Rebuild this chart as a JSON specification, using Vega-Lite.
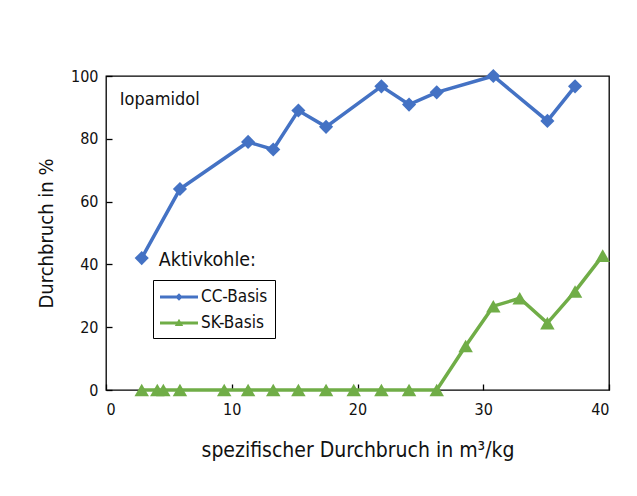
{
  "$schema": "https://vega.github.io/schema/vega-lite/v6.json",
  "autosize": "none",
  "width": 503,
  "height": 314,
  "padding": {"left": 106, "top": 76, "right": 28, "bottom": 106},
  "background": "white",
  "config": {
    "font": "Liberation Sans Narrow, DejaVu Sans Condensed, sans-serif",
    "view": {"stroke": "black", "strokeWidth": 1.3},
    "axis": {"grid": false, "domain": false, "tickColor": "black", "tickSize": -6, "tickWidth": 1.3,
      "labelColor": "#111", "labelFontSize": 16, "titleColor": "#111", "titleFontWeight": "normal"}
  },
  "datasets": {
    "series": [
      {"x": 2.84, "y": 42, "s": "CC-Basis"},
      {"x": 5.88, "y": 64, "s": "CC-Basis"},
      {"x": 11.3, "y": 79, "s": "CC-Basis"},
      {"x": 13.3, "y": 76.6, "s": "CC-Basis"},
      {"x": 15.3, "y": 89, "s": "CC-Basis"},
      {"x": 17.5, "y": 83.8, "s": "CC-Basis"},
      {"x": 21.9, "y": 96.7, "s": "CC-Basis"},
      {"x": 24.1, "y": 90.9, "s": "CC-Basis"},
      {"x": 26.3, "y": 94.8, "s": "CC-Basis"},
      {"x": 30.8, "y": 100, "s": "CC-Basis"},
      {"x": 35.1, "y": 85.7, "s": "CC-Basis"},
      {"x": 37.3, "y": 96.7, "s": "CC-Basis"},
      {"x": 2.84, "y": 0, "s": "SK-Basis"},
      {"x": 4.08, "y": 0, "s": "SK-Basis"},
      {"x": 4.56, "y": 0, "s": "SK-Basis"},
      {"x": 5.88, "y": 0, "s": "SK-Basis"},
      {"x": 9.4, "y": 0, "s": "SK-Basis"},
      {"x": 11.3, "y": 0, "s": "SK-Basis"},
      {"x": 13.3, "y": 0, "s": "SK-Basis"},
      {"x": 15.3, "y": 0, "s": "SK-Basis"},
      {"x": 17.5, "y": 0, "s": "SK-Basis"},
      {"x": 19.7, "y": 0, "s": "SK-Basis"},
      {"x": 21.9, "y": 0, "s": "SK-Basis"},
      {"x": 24.1, "y": 0, "s": "SK-Basis"},
      {"x": 26.3, "y": 0, "s": "SK-Basis"},
      {"x": 28.6, "y": 14, "s": "SK-Basis"},
      {"x": 30.8, "y": 26.7, "s": "SK-Basis"},
      {"x": 32.9, "y": 29.2, "s": "SK-Basis"},
      {"x": 35.1, "y": 21.3, "s": "SK-Basis"},
      {"x": 37.3, "y": 31.4, "s": "SK-Basis"},
      {"x": 39.5, "y": 42.8, "s": "SK-Basis"}
    ],
    "notes": [
      {"x": 1.1, "y": 92.5, "t": "Iopamidol", "size": 18},
      {"x": 4.2, "y": 41.5, "t": "Aktivkohle:", "size": 19.5}
    ]
  },
  "layer": [
    {
      "data": {"name": "series"},
      "mark": {"type": "line", "strokeWidth": 3.5, "clip": false},
      "encoding": {
        "x": {"field": "x", "type": "quantitative", "scale": {"domain": [0, 40], "nice": false},
          "axis": {"values": [0, 10, 20, 30, 40], "title": "spezifischer Durchbruch in m³/kg", "titleFontSize": 21, "titlePadding": 22, "labelPadding": 17}},
        "y": {"field": "y", "type": "quantitative", "scale": {"domain": [0, 100], "nice": false},
          "axis": {"values": [0, 20, 40, 60, 80, 100], "title": "Durchbruch in %", "titleFontSize": 20, "titlePadding": 14, "labelPadding": 14}},
        "color": {"field": "s", "type": "nominal",
          "scale": {"domain": ["CC-Basis", "SK-Basis"], "range": ["#4472C4", "#70AD47"]},
          "legend": {
            "orient": "none", "legendX": 47, "legendY": 204, "title": null,
            "direction": "vertical",
            "strokeColor": "black", "padding": 7, "fillColor": "white",
            "labelFontSize": 17, "labelColor": "#111", "labelOffset": 12,
            "symbolSize": 400, "symbolOffset": 9, "rowPadding": 8,
            "symbolType": "M-1.9,-0.15H1.9V0.15H-1.9Z",
            "encode": {
              "symbols": {"update": {
                "shape": {"signal": "datum.value === 'CC-Basis' ? 'M-1.9,-0.15H1.9V0.15H-1.9Z M0,-0.38L0.38,0L0,0.38L-0.38,0Z' : 'M-1.9,-0.15H1.9V0.15H-1.9Z M0,-0.42L0.42,0.3L-0.42,0.3Z'"},
                "fill": {"signal": "scale('color', datum.value)"},
                "fillOpacity": {"value": 1},
                "strokeWidth": {"value": 0}
              }}
            }
          }}
      }
    },
    {
      "data": {"name": "series"},
      "transform": [{"filter": "datum.s === 'CC-Basis'"}],
      "mark": {"type": "point", "shape": "diamond", "filled": true, "opacity": 1, "size": 200, "clip": false, "color": "#4472C4"},
      "encoding": {
        "x": {"field": "x", "type": "quantitative"},
        "y": {"field": "y", "type": "quantitative"}
      }
    },
    {
      "data": {"name": "series"},
      "transform": [{"filter": "datum.s === 'SK-Basis'"}],
      "mark": {"type": "point", "shape": "triangle-up", "filled": true, "opacity": 1, "size": 210, "clip": false, "color": "#70AD47"},
      "encoding": {
        "x": {"field": "x", "type": "quantitative"},
        "y": {"field": "y", "type": "quantitative"}
      }
    },
    {
      "data": {"name": "notes"},
      "mark": {"type": "text", "align": "left", "baseline": "middle", "color": "#111"},
      "encoding": {
        "x": {"field": "x", "type": "quantitative"},
        "y": {"field": "y", "type": "quantitative"},
        "text": {"field": "t"},
        "size": {"field": "size", "type": "quantitative", "scale": null}
      }
    }
  ]
}
